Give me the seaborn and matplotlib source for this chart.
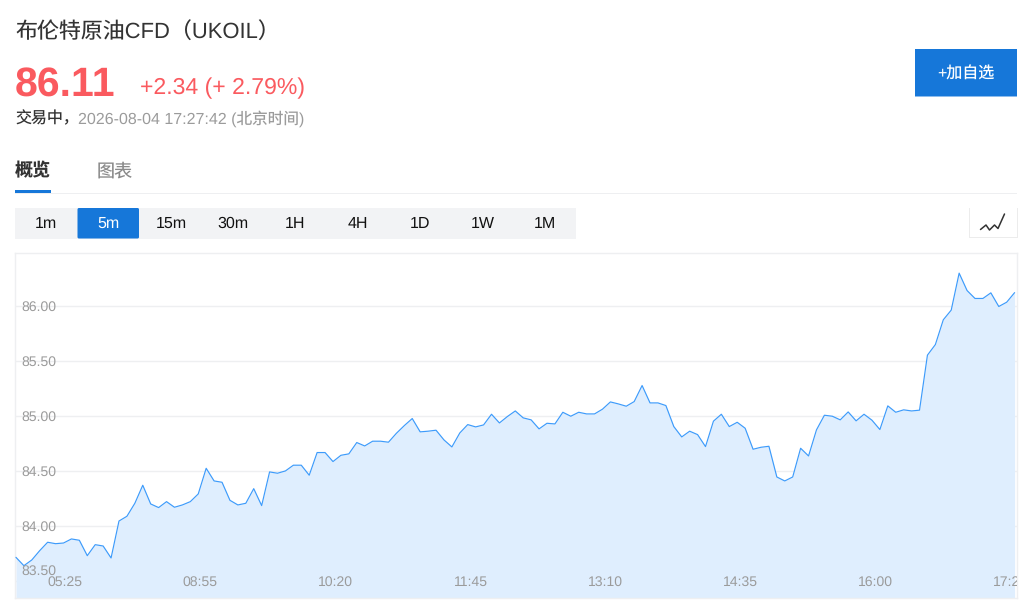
import numpy as np
import pandas as pd
import seaborn as sns
import matplotlib.pyplot as plt
from matplotlib.patches import Rectangle, FancyBboxPatch

# values, one per 5m bar
prices = [83.715, 83.639, 83.691, 83.776, 83.852, 83.839, 83.845, 83.882, 83.870, 83.730,
          83.830, 83.818, 83.709, 84.045, 84.088, 84.206, 84.370, 84.200, 84.167, 84.221,
          84.170, 84.191, 84.221, 84.291, 84.524, 84.409, 84.397, 84.233, 84.191, 84.206,
          84.339, 84.185, 84.491, 84.479, 84.500, 84.552, 84.552, 84.461, 84.667, 84.667,
          84.585, 84.642, 84.655, 84.758, 84.727, 84.770, 84.770, 84.761, 84.842, 84.912,
          84.976, 84.855, 84.861, 84.870, 84.782, 84.718, 84.845, 84.921, 84.900, 84.918,
          85.015, 84.936, 84.994, 85.045, 84.982, 84.964, 84.882, 84.933, 84.927, 85.033,
          84.997, 85.033, 85.018, 85.018, 85.061, 85.127, 85.109, 85.088, 85.130, 85.276,
          85.118, 85.118, 85.094, 84.903, 84.809, 84.861, 84.830, 84.721, 84.952, 85.015,
          84.903, 84.942, 84.888, 84.697, 84.715, 84.724, 84.445, 84.409, 84.445, 84.706,
          84.636, 84.873, 85.006, 84.997, 84.964, 85.036, 84.955, 85.015, 84.961, 84.876,
          85.091, 85.033, 85.055, 85.045, 85.052, 85.552, 85.648, 85.873, 85.961, 86.297,
          86.139, 86.067, 86.067, 86.118, 85.994, 86.033, 86.120]
time_labels = ['05:25', '08:55', '10:20', '11:45', '13:10', '14:35', '16:00', '17:25']
time_index = [6, 23, 40, 57, 74, 91, 108, 125]
y_ticks = [83.5, 84.0, 84.5, 85.0, 85.5, 86.0]
periods = ['1m', '5m', '15m', '30m', '1H', '4H', '1D', '1W', '1M']
period_x = [46, 108, 171, 233, 295, 358, 420, 483, 545]

BLUE = '#1677d9'
RED = '#fa5a5f'
GRAY = '#9b9b9b'
LINE = '#eeeff1'

sns.set_theme(style='white')
plt.rcParams['font.family'] = ['Liberation Sans', 'Noto Sans CJK SC', 'DejaVu Sans']
plt.rcParams['text.hinting'] = 'no_hinting'
plt.rcParams['text.hinting_factor'] = 1

df = pd.DataFrame({'bar': np.arange(len(prices)), 'price': prices})

fig = plt.figure(figsize=(10.24, 6.05), dpi=100, facecolor='white')

#=====================================
# chart
left, right, top, bottom = 15.0, 1017, 253, 597.5
ax = fig.add_axes([left / 1024, (605 - bottom) / 605, (right - left) / 1024, (bottom - top) / 605])
ax.set_xlim(-0.12, 126.3)
ax.set_ylim(83.35, 86.48)
ax.set_yticks(y_ticks)
ax.set_xticks([])
ax.set_yticklabels([])
ax.tick_params(length=0)
ax.grid(axis='y', color=LINE, linewidth=1)
ax.set_axisbelow(True)
for s in ax.spines.values():
    s.set_color(LINE)
    s.set_linewidth(1)

ax.fill_between(df['bar'], df['price'], 83.35, color='#dfeefe', linewidth=0, zorder=2)
sns.lineplot(data=df, x='bar', y='price', ax=ax, color='#3d9bfb', linewidth=0.85, zorder=3)
ax.set_xlabel('')
ax.set_ylabel('')

for t in y_ticks:
    # the lowest label is pushed up off its grid line
    ypos = t - 0.012 if t > 83.5 else 83.59
    ax.text(0.65, ypos, f'{t:.2f}', color=GRAY, fontsize=9.9, va='center', ha='left', zorder=5)
# last label runs off the chart edge in the original too
for i, lab in zip(time_index, time_labels):
    ax.text(i + 0.2 + i * 0.0025, 83.49, lab, color=GRAY, fontsize=9.9, va='center', ha='center',
            zorder=5, clip_on=True)

#=====================================
# page around the chart, in pixel coordinates
ui = fig.add_axes([0, 0, 1, 1], facecolor='none')
ui.set_xlim(0, 1024)
ui.set_ylim(605, 0)
ui.axis('off')

ui.text(15, 32.5, '布伦特原油CFD（UKOIL）', fontsize=15.8, color='#333333', va='center', ha='left')
ui.text(14.5, 86, '86.11', fontsize=29.5, color=RED, weight='bold', va='center', ha='left')
ui.text(140, 88.5, '+2.34 (+ 2.79%)', fontsize=16.25, color=RED, va='center', ha='left')
ui.text(15, 119, '交易中，', fontsize=11.5, color='#333333', va='center', ha='left')
ui.text(78, 119, '2026-08-04 17:27:42 (北京时间)', fontsize=11.25, color=GRAY, va='center', ha='left')

ui.add_patch(Rectangle((915, 49), 102, 47, color=BLUE, linewidth=0))
ui.add_patch(Rectangle((915, 95.5), 102, 1, color='#8dbcec', linewidth=0))
ui.text(966, 74, '+加自选', fontsize=11.5, color='white', va='center', ha='center')

ui.text(15, 171.5, '概览', fontsize=13, color='#333333', weight='bold', va='center', ha='left')
ui.text(97, 171.5, '图表', fontsize=13, color='#8a8a8a', va='center', ha='left')
ui.add_patch(Rectangle((15, 193), 1002, 1, color=LINE, linewidth=0))
ui.add_patch(Rectangle((15, 189.5), 36, 3.5, color=BLUE, linewidth=0))

ui.add_patch(Rectangle((15, 207.5), 561, 31.5, color='#f2f3f5', linewidth=0))
ui.add_patch(FancyBboxPatch((77.5, 208), 61.5, 30.5, boxstyle='round,pad=0,rounding_size=1.5',
                            color=BLUE, linewidth=0))
for name, xpos in zip(periods, period_x):
    ui.text(xpos, 224, name, fontsize=11.3, va='center', ha='center',
            color='white' if name == '5m' else '#111111')

# line-type switch, soft shadow then the white box
ui.add_patch(Rectangle((969, 207.5), 49, 30.5, color='#ececec', linewidth=0))
ui.add_patch(Rectangle((970, 208), 47, 28.5, color='white', linewidth=0))
ui.plot([980.5, 986, 989.5, 994.5, 998, 1004.5], [229.5, 225, 230, 225, 228.5, 214],
        color='#333333', linewidth=1.1)

fig.savefig('out.png', dpi=100)
